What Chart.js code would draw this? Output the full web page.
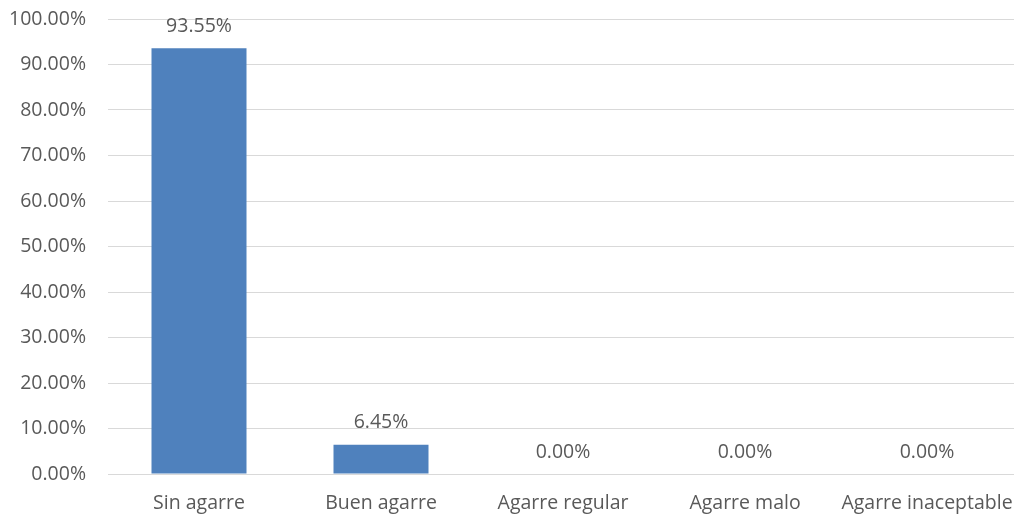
<!DOCTYPE html>
<html>
<head>
<meta charset="utf-8">
<script src="https://cdn.jsdelivr.net/npm/chart.js@4/dist/chart.umd.min.js"></script>
<style>
  html, body { margin: 0; padding: 0; background: #ffffff; overflow: hidden; }
  #wrap { width: 1018px; height: 514px; position: relative; }
</style>
</head>
<body>
<div id="wrap"><canvas id="chart"></canvas></div>
<script>
const categories = ['Sin agarre', 'Buen agarre', 'Agarre regular', 'Agarre malo', 'Agarre inaceptable'];
const percentages = [93.55, 6.45, 0, 0, 0];
const yTicks = [0, 10, 20, 30, 40, 50, 60, 70, 80, 90, 100];

const FONT = '"Open Sans", sans-serif';
const SIZE = 19.5;
const TEXT = '#595959';

// Writes each bar's percentage just above its top edge
const valueLabels = {
  id: 'valueLabels',
  afterDatasetsDraw(chart) {
    const { ctx } = chart;
    const meta = chart.getDatasetMeta(0);
    ctx.save();
    ctx.font = SIZE + 'px ' + FONT;
    ctx.fillStyle = TEXT;
    ctx.textAlign = 'center';
    ctx.textBaseline = 'middle';
    meta.data.forEach((bar, i) => {
      ctx.fillText(percentages[i].toFixed(2) + '%', bar.x, bar.y - 22);
    });
    ctx.restore();
  }
};

new Chart(document.getElementById('chart'), {
  type: 'bar',
  data: {
    labels: categories,
    datasets: [{
      data: percentages,
      backgroundColor: '#4f81bd',
      borderWidth: 0,
      categoryPercentage: 1.0,
      barPercentage: 0.522
    }]
  },
  options: {
    responsive: true,
    maintainAspectRatio: false,
    animation: false,
    layout: { padding: { top: 19, right: 0, bottom: 0, left: 0 } },
    plugins: { legend: { display: false }, tooltip: { enabled: false } },
    scales: {
      x: {
        grid: { display: false, drawTicks: false },
        border: { display: true, color: '#d9d9d9', width: 1 },
        ticks: { color: TEXT, font: { family: FONT, size: SIZE }, padding: 18, maxRotation: 0, autoSkip: false },
        afterFit(scale) {
          scale.height = 40;
          scale.paddingLeft = 0;
          scale.paddingRight = 0;
        }
      },
      y: {
        min: 0,
        max: 100,
        afterBuildTicks(scale) { scale.ticks = yTicks.map(v => ({ value: v })); },
        grid: { color: '#d9d9d9', lineWidth: 1, drawTicks: false },
        border: { display: false },
        ticks: {
          color: TEXT,
          font: { family: FONT, size: SIZE },
          padding: 22,
          callback: v => Number(v).toFixed(2) + '%'
        },
        afterFit(scale) {
          scale.width = 108;
          scale.paddingTop = 0;
          scale.paddingBottom = 0;
        }
      }
    }
  },
  plugins: [valueLabels]
});
</script>
</body>
</html>
